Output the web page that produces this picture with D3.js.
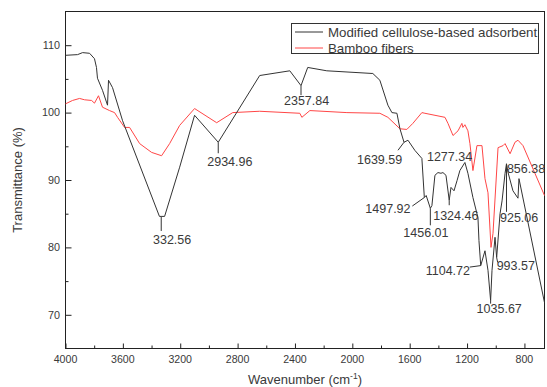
<!DOCTYPE html>
<html>
<head>
<meta charset="utf-8">
<script src="https://cdn.jsdelivr.net/npm/d3@7"></script>
<style>
  body { margin: 0; background: #fff; }
  svg { display: block; font-family: "Liberation Sans", Arial, sans-serif; }
</style>
</head>
<body>
<div id="chart"></div>
<script>
// FTIR spectra, wavenumber (cm-1) vs transmittance (%)
const adsorbentWave = [4000, 3916, 3881, 3832, 3798, 3784, 3777, 3742, 3707, 3700, 3672, 3602,
    3345, 3332.56, 3309, 3204, 3100, 2934.96, 2646, 2436, 2357.84, 2311, 2178, 1857, 1808,
    1752, 1724, 1689, 1668, 1639.59, 1612, 1564, 1515, 1497.92, 1485, 1456.01, 1445, 1424,
    1403, 1382, 1368, 1347, 1324.46, 1312, 1291, 1270, 1250, 1215, 1194, 1159, 1124, 1117,
    1104.72, 1075, 1054, 1035.67, 1026, 1005, 993.57, 970, 956, 935, 925.06, 914, 880, 845,
    838, 660];
const adsorbentTrans = [108.5, 108.6, 108.9, 108.8, 108.0, 106.7, 105.1, 103.3, 101.1, 104.8, 103.7, 98.8,
    84.6, 84.6, 84.6, 91.9, 99.6, 95.6, 105.5, 106.2, 104.0, 106.7, 106.2, 105.8, 104.8,
    101.1, 100.0, 99.9, 97.6, 95.6, 95.9, 94.4, 93.2, 87.4, 87.7, 85.8, 86.2, 90.7,
    91.1, 91.0, 91.1, 90.7, 87.0, 88.9, 88.4, 89.9, 91.4, 92.6, 91.0, 87.4, 84.4, 81.0,
    77.3, 79.5, 76.6, 72.1, 76.6, 81.5, 78.5, 85.0, 86.9, 91.0, 92.4, 91.1, 88.4, 87.3,
    90.2, 71.8];

const bambooWave = [4000, 3951, 3902, 3867, 3818, 3798, 3770, 3742, 3693, 3658, 3637, 3588, 3553,
    3483, 3400, 3330, 3274, 3204, 3100, 2946, 2834, 2646, 2366, 2352, 2296, 2038, 1808,
    1752, 1668, 1620, 1578, 1515, 1494, 1354, 1333, 1298, 1263, 1236, 1229, 1215, 1194,
    1180, 1159, 1131, 1096, 1075, 1054, 1033, 1019, 984, 949, 935, 900, 866, 845, 810, 660];
const bambooTrans = [101.3, 101.8, 102.1, 101.9, 101.8, 101.4, 102.5, 100.8, 100.3, 100.0, 99.3, 97.8, 97.8,
    95.4, 94.1, 93.6, 95.4, 98.1, 100.6, 98.5, 100.0, 100.2, 99.9, 99.3, 100.3, 100.0, 99.9,
    99.3, 97.6, 97.5, 98.4, 100.0, 99.9, 99.3, 98.4, 96.6, 97.3, 98.4, 97.8, 98.2, 97.3,
    95.4, 91.4, 95.1, 95.1, 90.2, 88.1, 80.0, 82.1, 94.8, 95.1, 95.4, 93.9, 95.6, 95.9, 95.1, 87.7];

const peakWave = [3332.56, 2934.96, 2357.84, 1639.59, 1277.34, 1497.92, 1456.01, 1324.46,
    1104.72, 1035.67, 993.57, 925.06, 856.38];
const peakLabels = ['332.56', '2934.96', '2357.84', '1639.59', '1277.34', '1497.92', '1456.01', '1324.46',
    '1104.72', '1035.67', '993.57', '925.06', '856.38'];

const seriesNames = ['Modified cellulose-based adsorbent', 'Bamboo fibers'];
const xTicks = [4000, 3600, 3200, 2800, 2400, 2000, 1600, 1200, 800];
const yTicks = [70, 80, 90, 100, 110];

// label placement: [leader dx, leader dy, text dx, text dy] from the peak point
const labelOffsets = [
    [0, 14.6, -8.2, 27.6], [0, 11, -11, 24], [0, 9.5, -17, 19.5], [-6, 8, -47, 22],
    [0, 0, -29, -23], [-12, 8.5, -59, 15.5], [0, 17, -27, 29], [0, 5, -16, 20],
    [-11, 1.5, -55, 9.5], [0, 3, -14, 12.5], [1, 5, 0, 12.5], [0, 48, -6.5, 58],
    [0, 0, -9.4, -22.8]
];

const width = 547, height = 387;
const plotLeft = 65.5, plotRight = 544.5, plotTop = 11.5, plotBottom = 348.5;

const svg = d3.select('#chart').append('svg')
    .attr('width', width)
    .attr('height', height);

const x = d3.scaleLinear().domain([4000, 660]).range([plotLeft, plotRight]);
const y = d3.scaleLinear().domain([65, 115]).range([plotBottom, plotTop]);

const textColor = '#3a3a3a';
const red = '#ff4646';

// bottom axis, ticks pointing inward
const xMinor = d3.range(3800, 660, -400);
svg.append('g')
    .attr('transform', `translate(0,${plotBottom})`)
    .call(d3.axisTop(x).tickValues(xMinor).tickSize(3).tickFormat(''))
    .call(g => g.select('.domain').remove());
svg.append('g')
    .attr('transform', `translate(0,${plotBottom})`)
    .call(d3.axisTop(x).tickValues(xTicks).tickSize(5).tickFormat(''))
    .call(g => g.select('.domain').remove());
svg.append('g')
    .selectAll('text')
    .data(xTicks)
    .join('text')
    .attr('x', d => x(d))
    .attr('y', 363)
    .attr('text-anchor', 'middle')
    .attr('font-size', 10.6)
    .attr('fill', textColor)
    .text(d => d);

// left axis
const yMinor = [75, 85, 95, 105];
svg.append('g')
    .attr('transform', `translate(${plotLeft},0)`)
    .call(d3.axisRight(y).tickValues(yMinor).tickSize(3).tickFormat(''))
    .call(g => g.select('.domain').remove());
svg.append('g')
    .attr('transform', `translate(${plotLeft},0)`)
    .call(d3.axisRight(y).tickValues(yTicks).tickSize(6).tickFormat(''))
    .call(g => g.select('.domain').remove());
svg.append('g')
    .selectAll('text')
    .data(yTicks)
    .join('text')
    .attr('x', 60)
    .attr('y', d => y(d))
    .attr('dy', '0.36em')
    .attr('text-anchor', 'end')
    .attr('font-size', 10.8)
    .attr('fill', textColor)
    .text(d => d);

svg.selectAll('.tick line').attr('stroke', '#222');

// frame
svg.append('rect')
    .attr('x', plotLeft)
    .attr('y', plotTop)
    .attr('width', plotRight - plotLeft)
    .attr('height', plotBottom - plotTop)
    .attr('fill', 'none')
    .attr('stroke', '#222')
    .attr('stroke-width', 1);

// axis titles
svg.append('text')
    .attr('x', 305)
    .attr('y', 384)
    .attr('text-anchor', 'middle')
    .attr('font-size', 13)
    .attr('fill', textColor)
    .text('Wavenumber (cm')
    .call(t => t.append('tspan').attr('font-size', 8.5).attr('dy', -5).text('-1'))
    .call(t => t.append('tspan').attr('dy', 5).text(')'));

svg.append('text')
    .attr('transform', 'translate(22,180) rotate(-90)')
    .attr('text-anchor', 'middle')
    .attr('font-size', 13)
    .attr('fill', textColor)
    .text('Transmittance (%)');

// spectra
const line = d3.line()
    .x(d => x(d[0]))
    .y(d => y(d[1]));

const adsorbent = d3.zip(adsorbentWave, adsorbentTrans);
const bamboo = d3.zip(bambooWave, bambooTrans);

svg.append('path')
    .datum(bamboo)
    .attr('d', line)
    .attr('fill', 'none')
    .attr('stroke', red)
    .attr('stroke-width', 1);

svg.append('path')
    .datum(adsorbent)
    .attr('d', line)
    .attr('fill', 'none')
    .attr('stroke', '#333')
    .attr('stroke-width', 1);

// transmittance of the adsorbent curve at a given wavenumber
function transAt(w) {
    for (let i = 0; i < adsorbentWave.length - 1; i++) {
        const w0 = adsorbentWave[i], w1 = adsorbentWave[i + 1];
        if (w <= w0 && w >= w1) {
            const t = (w0 - w) / (w0 - w1);
            return adsorbentTrans[i] + t * (adsorbentTrans[i + 1] - adsorbentTrans[i]);
        }
    }
    return adsorbentTrans[adsorbentTrans.length - 1];
}

// peak annotations
const peaks = peakWave.map((w, i) => ({
    px: x(w), py: y(transAt(w)), label: peakLabels[i], off: labelOffsets[i]
}));

const ann = svg.append('g');
ann.selectAll('line')
    .data(peaks.filter(p => p.off[0] !== 0 || p.off[1] !== 0))
    .join('line')
    .attr('x1', p => p.px)
    .attr('y1', p => p.py)
    .attr('x2', p => p.px + p.off[0])
    .attr('y2', p => p.py + p.off[1])
    .attr('stroke', '#333')
    .attr('stroke-width', 1);
ann.selectAll('text')
    .data(peaks)
    .join('text')
    .attr('x', p => p.px + p.off[2])
    .attr('y', p => p.py + p.off[3])
    .attr('font-size', 12.5)
    .attr('fill', textColor)
    .text(p => p.label);

// legend
const legend = svg.append('g');
legend.append('rect')
    .attr('x', 291.5)
    .attr('y', 23.5)
    .attr('width', 247)
    .attr('height', 30)
    .attr('fill', '#fff')
    .attr('stroke', '#333');
const legendColors = ['#333', red];
seriesNames.forEach((name, i) => {
    const ly = 32 + i * 16;
    legend.append('line')
        .attr('x1', 295).attr('x2', 323)
        .attr('y1', ly).attr('y2', ly)
        .attr('stroke', legendColors[i]);
    legend.append('text')
        .attr('x', 328)
        .attr('y', ly)
        .attr('dy', '0.36em')
        .attr('font-size', 13.3)
        .attr('fill', textColor)
        .text(name);
});
</script>
</body>
</html>
